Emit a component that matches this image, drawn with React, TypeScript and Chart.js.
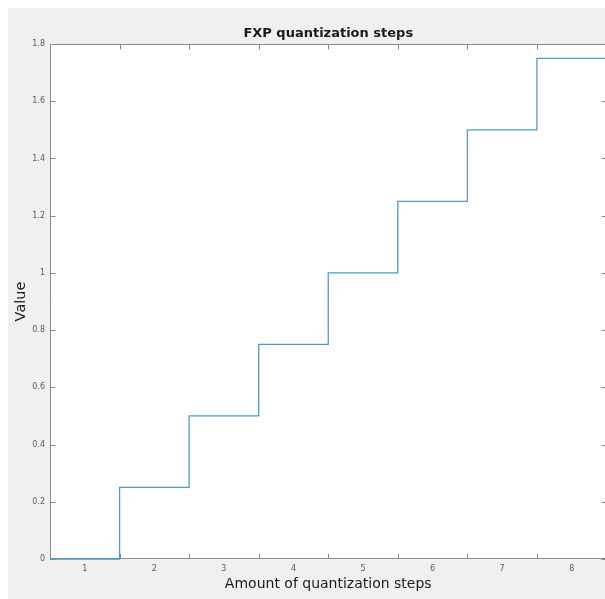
import React, { useEffect, useRef } from "react";
import { Chart, registerables } from "chart.js";

Chart.register(...registerables);

// ---- data ----
const steps = [1, 2, 3, 4, 5, 6, 7, 8];
const values = [0, 0.25, 0.5, 0.75, 1, 1.25, 1.5, 1.75];
const xRange = [0.5, 8.5];
const yTicks = [0, 0.2, 0.4, 0.6, 0.8, 1, 1.2, 1.4, 1.6, 1.8];
const xTickMarks = [1.5, 2.5, 3.5, 4.5, 5.5, 6.5, 7.5];
const titleText = "FXP quantization steps";
const xTitle = "Amount of quantization steps";
const yTitle = "Value";

const FONT = "'DejaVu Sans', 'Liberation Sans', sans-serif";
const AXIS_COLOR = "#8a8a8a";
const LABEL_COLOR = "#5a5a5a";
const LINE_COLOR = "#4f9cc4";

const framePlugin = {
  id: "matlabFrame",
  beforeDraw(chart: any) {
    const { ctx, chartArea: a } = chart;
    ctx.save();
    ctx.fillStyle = "#ffffff";
    ctx.fillRect(a.left, a.top, a.right - a.left, a.bottom - a.top);
    ctx.restore();
  },
  beforeDatasetsDraw(chart: any) {
    const { ctx, chartArea: a, scales } = chart;
    const L = Math.round(a.left) + 0.5;
    const R = Math.round(a.right) - 0.5;
    const T = Math.round(a.top) + 0.5;
    const B = Math.round(a.bottom) - 0.5;
    ctx.save();
    ctx.strokeStyle = AXIS_COLOR;
    ctx.lineWidth = 1;
    ctx.beginPath();
    ctx.rect(L, T, R - L, B - T);
    const len = 5;
    for (const v of xTickMarks) {
      const px = Math.round(scales.x.getPixelForValue(v)) + 0.5;
      ctx.moveTo(px, B);
      ctx.lineTo(px, B - len);
      ctx.moveTo(px, T);
      ctx.lineTo(px, T + len);
    }
    for (const v of yTicks) {
      const py = Math.round(scales.y.getPixelForValue(v)) + 0.5;
      ctx.moveTo(L, py);
      ctx.lineTo(L + len, py);
      ctx.moveTo(R, py);
      ctx.lineTo(R - len, py);
    }
    ctx.stroke();
    ctx.restore();
  },
  afterDraw(chart: any) {
    const { ctx, chartArea: a } = chart;
    ctx.save();
    ctx.fillStyle = "#1a1a1a";
    ctx.font = `bold 13px ${FONT}`;
    ctx.textAlign = "center";
    ctx.textBaseline = "middle";
    ctx.fillText(titleText, (a.left + a.right) / 2, 26);
    ctx.restore();
  },
};

export default function App() {
  const ref = useRef<HTMLCanvasElement | null>(null);

  useEffect(() => {
    if (!ref.current) return;
    const points = [
      { x: xRange[0], y: values[0] },
      ...steps.map((s, i) => ({ x: s, y: values[i] })),
      { x: xRange[1], y: values[values.length - 1] },
    ];
    const chart = new Chart(ref.current, {
      type: "line",
      data: {
        datasets: [
          {
            data: points,
            stepped: "middle",
            borderColor: LINE_COLOR,
            borderWidth: 1.3,
            pointRadius: 0,
            fill: false,
            clip: false as any,
          },
        ],
      },
      options: {
        animation: false,
        responsive: false,
        events: [],
        layout: { padding: { top: 36, right: 1.5, left: 0, bottom: 0 } },
        plugins: {
          legend: { display: false },
          tooltip: { enabled: false },
          title: { display: false },
        },
        scales: {
          x: {
            type: "linear",
            min: xRange[0],
            max: xRange[1],
            afterBuildTicks: (s: any) => {
              s.ticks = steps.map((v) => ({ value: v }));
            },
            afterFit: (s: any) => {
              s.height = 40;
            },
            grid: { display: false, drawTicks: false },
            border: { display: false },
            ticks: {
              color: LABEL_COLOR,
              font: { family: FONT, size: 8 },
              padding: 5,
              maxRotation: 0,
              autoSkip: false,
              callback: (v: any) => String(v),
            },
            title: {
              display: true,
              text: xTitle,
              color: "#1a1a1a",
              font: { family: FONT, size: 14 },
              padding: { top: 0, bottom: 6 },
            },
          },
          y: {
            type: "linear",
            min: 0,
            max: 1.8,
            afterBuildTicks: (s: any) => {
              s.ticks = yTicks.map((v) => ({ value: v }));
            },
            afterFit: (s: any) => {
              s.width = 42;
            },
            grid: { display: false, drawTicks: false },
            border: { display: false },
            ticks: {
              color: LABEL_COLOR,
              font: { family: FONT, size: 8 },
              padding: 5,
              autoSkip: false,
              callback: (v: any) => String(Math.round(Number(v) * 10) / 10),
            },
            title: {
              display: true,
              text: yTitle,
              color: "#1a1a1a",
              font: { family: FONT, size: 14.5 },
              padding: { top: 5, bottom: 0 },
            },
          },
        },
      },
      plugins: [framePlugin],
    });
    return () => chart.destroy();
  }, []);

  return (
    <div
      style={{
        position: "fixed",
        left: 8,
        top: 8,
        width: 597,
        height: 591,
        overflow: "hidden",
        background: "#f0f0f0",
      }}
    >
      <canvas ref={ref} width={600} height={591} style={{ display: "block" }} />
    </div>
  );
}
